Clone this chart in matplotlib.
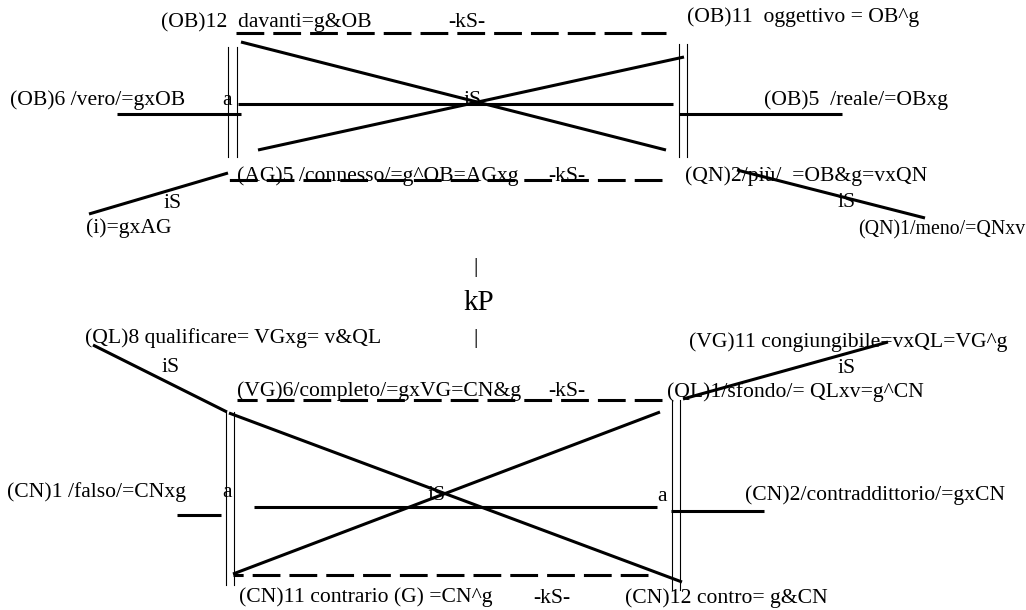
import matplotlib.pyplot as plt

plt.rcParams['font.family'] = ['Liberation Serif', 'DejaVu Serif']
plt.rcParams['lines.scale_dashes'] = False

# text of the diagram, left x and baseline y (pixel units of the page)
labels = [
    "(OB)12  davanti=g&OB", "-kS-", "(OB)11  oggettivo = OB^g",
    "(OB)6 /vero/=gxOB", "a", "iS", "(OB)5  /reale/=OBxg",
    "(AG)5 /connesso/=g^OB=AGxg", "-kS-", "(QN)2/più/  =OB&g=vxQN",
    "iS", "(QN)1/meno/=QNxv", "iS", "(i)=gxAG",
    "|", "|",
    "(QL)8 qualificare= VGxg= v&QL", "iS", "(VG)11 congiungibile=vxQL=VG^g", "iS",
    "(VG)6/completo/=gxVG=CN&g", "-kS-", "(QL)1/sfondo/= QLxv=g^CN",
    "(CN)1 /falso/=CNxg", "a", "iS", "a", "(CN)2/contraddittorio/=gxCN",
    "(CN)11 contrario (G) =CN^g", "-kS-", "(CN)12 contro= g&CN",
]
label_x = [161, 448, 687,
           10, 222, 463, 764,
           237, 548, 685,
           837, 858, 163, 86,
           473, 473,
           85, 162, 689, 838,
           237, 548, 667,
           7, 222, 428, 657, 745,
           239, 533, 625]
label_y = [27, 27, 22,
           105, 105, 105, 105,
           181, 181, 181,
           207, 234, 208, 233,
           272, 343,
           343, 372, 347, 373,
           396, 396, 397,
           497, 497, 500, 501, 500,
           602, 603, 603]
label_size = [15.6] * len(labels)
label_size[11] = 14.3

center_label = "kP"
center_xy = (463, 310)

# thick solid strokes: (x0, y0, x1, y1)
solid = [
    (241, 42, 666, 150), (258, 150, 684, 57),
    (238, 104, 673, 104), (117, 114, 241, 114), (679, 114, 842, 114),
    (89, 214, 228, 173), (737, 170, 925, 218),
    (93, 345, 227, 412), (229, 413, 682, 582), (660, 412, 233, 574),
    (683, 399, 888, 342),
    (254, 507, 657, 507), (177, 515, 221, 515), (671, 511, 764, 511),
]

# dashed strokes (drawn from the end where a dash starts)
dashed = [
    (236, 33, 666, 33),
    (662, 180, 229, 180),
    (662, 399.5, 237, 399.5),
    (648, 575, 233, 575),
]

# thin double bars
bars_x = [228, 236.5, 678.5, 687, 225.5, 233.5, 671.5, 680]
bars_top = [47, 47, 44, 44, 412, 412, 400, 400]
bars_bottom = [157, 157, 157, 157, 585, 585, 590, 590]

fig = plt.figure(figsize=(10.26, 6.10), dpi=100)
ax = fig.add_axes([0, 0, 1, 1])
ax.set_xlim(0, 1026)
ax.set_ylim(610, 0)
ax.axis('off')

for x0, y0, x1, y1 in solid:
    ax.plot([x0, x1], [y0, y1], color='black', lw=2.2, solid_capstyle='butt')

for x0, y0, x1, y1 in dashed:
    ln, = ax.plot([x0, x1], [y0, y1], color='black', lw=2.2, dash_capstyle='butt')
    ln.set_dashes([20.0, 6.5])

for x, t, b in zip(bars_x, bars_top, bars_bottom):
    ax.plot([x, x], [t, b], color='black', lw=0.8)

for s, x, y, fs in zip(labels, label_x, label_y, label_size):
    ax.text(x, y, s, fontsize=fs, ha='left', va='baseline', color='black')

ax.text(center_xy[0], center_xy[1], center_label, fontsize=21, ha='left', va='baseline')

fig.savefig('out.png', dpi=100)
